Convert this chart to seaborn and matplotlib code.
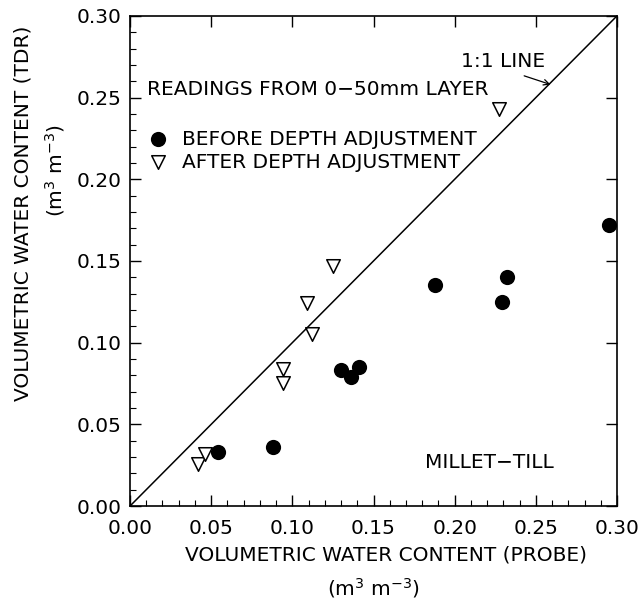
import matplotlib
matplotlib.use("Agg")
import matplotlib.pyplot as plt
import seaborn as sns
import pandas as pd
from matplotlib.ticker import MultipleLocator, FormatStrFormatter

# volumetric water content, probe vs TDR (m3 m-3)
before_probe = [0.054, 0.088, 0.130, 0.136, 0.141, 0.188, 0.229, 0.232, 0.295]
before_tdr = [0.033, 0.036, 0.083, 0.079, 0.085, 0.135, 0.125, 0.140, 0.172]
after_probe = [0.042, 0.046, 0.094, 0.094, 0.109, 0.112, 0.125, 0.227]
after_tdr = [0.026, 0.032, 0.084, 0.075, 0.124, 0.105, 0.147, 0.243]
one_to_one = [0.0, 0.30]

df_before = pd.DataFrame({"probe": before_probe, "tdr": before_tdr})
df_after = pd.DataFrame({"probe": after_probe, "tdr": after_tdr})

sns.set_style("ticks")
plt.rcParams['font.family'] = ['DejaVu Sans']
plt.rcParams['mathtext.fontset'] = 'dejavusans'
plt.rcParams['text.color'] = 'black'
plt.rcParams['xtick.color'] = 'black'
plt.rcParams['ytick.color'] = 'black'
fs = 14.5

fig = plt.figure(figsize=(6.41, 6.01), dpi=100)
ax = fig.add_axes([0.2028, 0.158, 0.7598, 0.8156])

sns.lineplot(x=one_to_one, y=one_to_one, ax=ax, color='black', linewidth=1.1)
sns.scatterplot(data=df_before, x="probe", y="tdr", ax=ax, marker='o', s=120,
                color='black', edgecolor='black', linewidth=0, label='BEFORE DEPTH ADJUSTMENT')
sns.scatterplot(data=df_after, x="probe", y="tdr", ax=ax, marker='v', s=95,
                facecolor='white', edgecolor='black', linewidth=1.1, label='AFTER DEPTH ADJUSTMENT')

ax.set_xlim(0, 0.30)
ax.set_ylim(0, 0.30)
ax.xaxis.set_major_locator(MultipleLocator(0.05))
ax.yaxis.set_major_locator(MultipleLocator(0.05))
ax.xaxis.set_minor_locator(MultipleLocator(0.01))
ax.yaxis.set_minor_locator(MultipleLocator(0.01))
ax.xaxis.set_major_formatter(FormatStrFormatter('%.2f'))
ax.yaxis.set_major_formatter(FormatStrFormatter('%.2f'))
ax.tick_params(which='major', direction='in', length=8, width=1, labelsize=fs,
               top=True, right=True, pad=6, labelcolor='black')
ax.tick_params(axis='x', which='major', pad=9)
ax.tick_params(which='minor', direction='in', length=4, width=0.8, top=False, right=False)
for sp in ax.spines.values():
    sp.set_linewidth(1.2)
    sp.set_color('black')
ax.set_xlabel('')
ax.set_ylabel('')

leg = ax.legend(loc='upper left', bbox_to_anchor=(0.037, 0.768), frameon=False, fontsize=fs,
                borderpad=0, borderaxespad=0, handlelength=1.0, handletextpad=0.7, labelspacing=0.2)
for t in leg.get_texts():
    t.set_color('black')

ax.text(0.035, 0.85, 'READINGS FROM 0\u221250mm LAYER', transform=ax.transAxes, fontsize=fs,
        ha='left', va='center')
ax.text(0.2298, 0.272, '1:1 LINE', fontsize=fs, ha='center', va='center')
ax.annotate('', xy=(0.259, 0.258), xytext=(0.2428, 0.2633),
            arrowprops=dict(arrowstyle='->', color='black', lw=0.9, shrinkA=0, shrinkB=0))
ax.text(0.737, 0.088, 'MILLET\u2212TILL', transform=ax.transAxes, fontsize=fs, ha='center', va='center')

fig.text(0.602, 0.0765, 'VOLUMETRIC WATER CONTENT (PROBE)', fontsize=fs, ha='center', va='center')
fig.text(0.583, 0.022, '(m$^3$ m$^{-3}$)', fontsize=fs, ha='center', va='center')
fig.text(0.036, 0.6456, 'VOLUMETRIC WATER CONTENT (TDR)', fontsize=fs, ha='center', va='center', rotation=90)
fig.text(0.086, 0.716, '(m$^3$ m$^{-3}$)', fontsize=fs, ha='center', va='center', rotation=90)

fig.savefig('out.png', dpi=100)
